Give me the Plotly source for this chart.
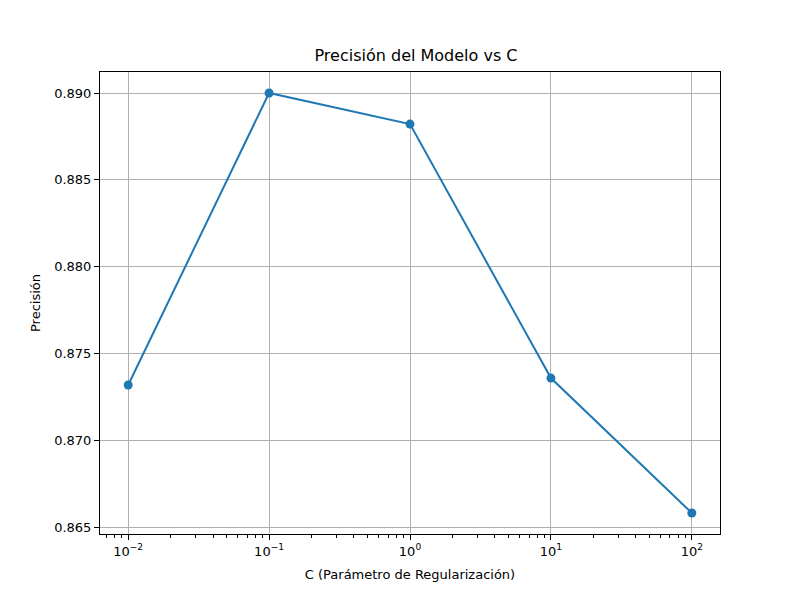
import plotly.graph_objects as go

c_values = [0.01, 0.1, 1, 10, 100]
precision = [0.87318, 0.8900, 0.88821, 0.87358, 0.86581]

x_tickvals = [0.01, 0.1, 1, 10, 100]
x_ticktext = ["10<sup>−2</sup>", "10<sup>−1</sup>", "10<sup>0</sup>", "10<sup>1</sup>", "10<sup>2</sup>"]
y_tickvals = [0.865, 0.870, 0.875, 0.880, 0.885, 0.890]
y_ticktext = ["0.865", "0.870", "0.875", "0.880", "0.885", "0.890"]

fig = go.Figure()
fig.add_trace(go.Scatter(
    x=c_values, y=precision, mode="lines+markers",
    line=dict(color="#1f77b4", width=2),
    marker=dict(color="#1f77b4", size=9),
    showlegend=False,
))

axis_common = dict(
    showline=True, linecolor="black", linewidth=1, mirror=True,
    ticks="outside", ticklen=5, tickcolor="black",
    showgrid=True, gridcolor="#b0b0b0", gridwidth=1,
    zeroline=False, tickfont=dict(size=13, color="black"),
)

fig.update_xaxes(
    type="log", range=[-2.2, 2.2],
    tickvals=x_tickvals, ticktext=x_ticktext,
    minor=dict(ticks="outside", ticklen=3, tickcolor="black", dtick="D1", showgrid=False),
    title=dict(text="C (Parámetro de Regularización)", font=dict(size=13, color="black"), standoff=12),
    **axis_common,
)
fig.update_yaxes(
    range=[0.86460, 0.89121],
    tickvals=y_tickvals, ticktext=y_ticktext,
    title=dict(text="Precisión", font=dict(size=13, color="black"), standoff=10),
    **axis_common,
)

fig.update_layout(
    width=800, height=600,
    font=dict(family="DejaVu Sans", color="black"),
    title=dict(text="Precisión del Modelo vs C", x=0.51, xanchor="center",
               y=0.93, yanchor="top", font=dict(size=16, color="black")),
    plot_bgcolor="white", paper_bgcolor="white",
    margin=dict(l=92, r=88, t=64, b=74),
)

fig.write_html("out.html")
